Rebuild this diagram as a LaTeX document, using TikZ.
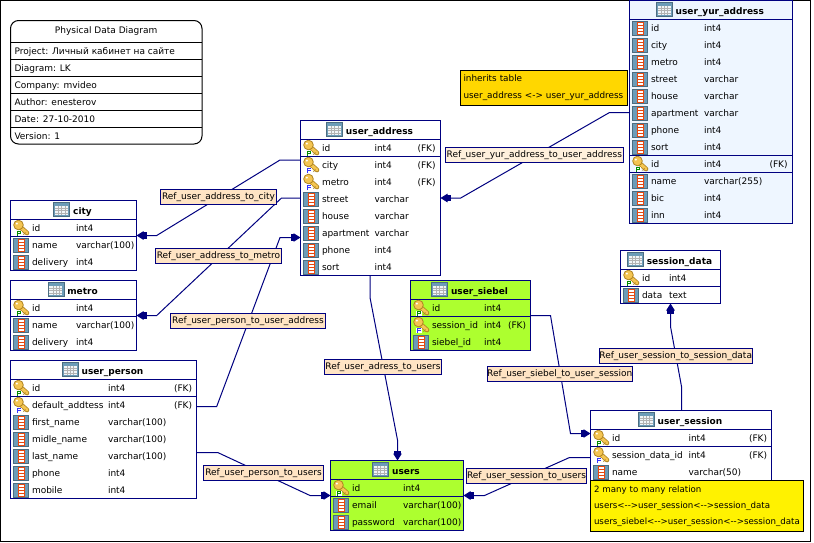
\documentclass[tikz,border=0pt]{standalone}
\usepackage{fontspec}
\setmainfont{DejaVu Sans}
\usetikzlibrary{arrows.meta}

\definecolor{refnavy}{HTML}{000080}
\definecolor{labelfill}{HTML}{FFE4C4}
\definecolor{labelpale}{HTML}{FFF0DC}
\definecolor{greenfill}{HTML}{ADFF2F}
\definecolor{bluefill}{HTML}{EEF6FF}
\definecolor{goldfill}{HTML}{FFD700}
\definecolor{iconblue}{HTML}{6C9CB8}
\definecolor{iconred}{HTML}{E8480F}
\definecolor{keygold}{HTML}{F4C552}
\definecolor{keyedge}{HTML}{B08420}

% columns of the next table: name, type, (FK)
\newcommand{\dbcols}[3]{\def\xname{#1}\def\xtype{#2}\def\xfk{#3}}
% name, left, right, top, bottom, fill, rows
\newcommand{\dbtable}[7]{
    \pgfmathsetmacro{\tabw}{#3-#2}
    \pgfmathsetmacro{\tabh}{#5-#4}
    \pgfmathsetmacro{\hdry}{#4+19}
    \node[dbbox, fill=#6, minimum width=\tabw pt, minimum height=\tabh pt] (#1) at (#2,#4) {};
    \node[dbtitle] (#1-title) at ({(#2+#3)/2+9},{#4+14}) {\detokenize{#1}};
    \pic at ([xshift=-19pt,yshift=12pt]#1-title.base west) {tabicon};
    \draw[dbline] (#2,\hdry) -- (#3,\hdry);
    \foreach \kind/\cname/\ctype [count=\i] in {#7} {
        \pgfmathsetmacro{\rowy}{\hdry+17*(\i-1)}
        \if\kind K \draw[dbline] (#2,\rowy) -- (#3,\rowy) (#2,\rowy+17) -- (#3,\rowy+17); \fi
        \if\kind P \draw[dbline] (#2,\rowy) -- (#3,\rowy) (#2,\rowy+17) -- (#3,\rowy+17); \fi
        \if\kind K \pic at (#2+2.5,\rowy+0.5) {keyP}; \node[coltext] (#1-fk\i) at (\xfk,\rowy+12) {(FK)}; \fi
        \if\kind P \pic at (#2+2.5,\rowy+0.5) {keyP}; \fi
        \if\kind F \pic at (#2+2.5,\rowy+0.5) {keyF}; \node[coltext] (#1-fk\i) at (\xfk,\rowy+12) {(FK)}; \fi
        \if\kind C \pic at (#2+3,\rowy+1.5) {colicon}; \fi
        \node[coltext] (#1-name\i) at (\xname,\rowy+12) {\cname};
        \node[coltext] (#1-type\i) at (\xtype,\rowy+12) {\ctype};
    }
}
\newcommand{\keyshape}{
    \draw[keyedge, line width=4.6pt, line cap=round] (5,5) -- (14,13);
    \draw[keygold, line width=3pt, line cap=round] (5,5) -- (14,13);
    \draw[keyedge, line width=1pt] (12.5,12.5) -- (10.5,14.5);
    \filldraw[fill=keygold, draw=keyedge, line width=0.8pt] (5.5,5) circle (4.8pt);
    \fill[white] (3.8,3.6) circle (1.1pt);
    \fill[white] (2.5,10.5) rectangle (8.5,16);
}

\begin{document}
\begin{tikzpicture}[x=1pt, y=-1pt, line width=1pt]
    \tikzset{
        dbfont/.style={font=\fontsize{9}{11}\selectfont},
        dbbox/.style={draw=refnavy, anchor=north west, inner sep=0pt, outer sep=0pt},
        dbline/.style={draw=refnavy},
        dbtitle/.style={anchor=base, inner sep=0pt, font=\fontsize{9}{11}\selectfont\bfseries},
        coltext/.style={dbfont, anchor=base west, inner sep=0pt},
        reflabel/.style={dbfont, draw=refnavy, fill=labelfill, inner sep=0pt, outer sep=0pt, minimum height=15.5pt},
        refarrow/.style={draw=refnavy, -{Rectangle[length=3.5pt,width=6.5pt,sep=-0.5pt]Triangle[length=7pt,width=8.5pt]}},
        notebox/.style={dbfont, draw=black, anchor=north west, inner xsep=3.5pt, inner ysep=0pt, outer sep=0pt, align=left},
        tabicon/.pic={
            \filldraw[fill=iconblue, draw=iconblue!70!black, line width=0.5pt] (0,0) rectangle (16,14);
            \fill[white!90!iconblue] (1.5,3) rectangle (14.5,12.5);
            \foreach \gx in {5,8,11.5} \draw[gray!60, line width=0.5pt] (\gx,3) -- (\gx,12.5);
            \foreach \gy in {5.5,8,10.5} \draw[gray!60, line width=0.5pt] (1.5,\gy) -- (14.5,\gy);
        },
        colicon/.pic={
            \filldraw[fill=iconblue, draw=iconblue!70!black, line width=0.5pt] (0,0) rectangle (15,14);
            \filldraw[fill=white, draw=iconred, line width=1pt] (4.5,1) rectangle (11,13.5);
            \foreach \gy in {4,7,10} \draw[iconred, line width=1pt] (4.5,\gy) -- (11,\gy);
        },
        keyP/.pic={
            \keyshape
            \draw[green!55!black, line width=1pt] (4.5,16) -- (4.5,11) -- (7.5,11) -- (7.5,13.5) -- (4.5,13.5);
        },
        keyF/.pic={
            \keyshape
            \draw[blue!80!white, line width=1pt] (4.5,16) -- (4.5,11) -- (8,11) (4.5,13.5) -- (7.5,13.5);
        }
    }
    \useasboundingbox (0,0) rectangle (814,542);
    \fill[white] (0,0) rectangle (814,542);
    \draw[black] (0.5,0.5) rectangle (810,541);

    % title block
    \node[draw=black, anchor=north west, rounded corners=8pt, inner sep=0pt, outer sep=0pt, minimum width=191.5pt, minimum height=123.5pt] (titleblock) at (10.5,20.5) {};
    \node[dbfont, anchor=base, inner sep=0pt] (titlehead) at (106.2,33.5) {Physical Data Diagram};
    \foreach \ty/\ttext [count=\i] in {42.5/Project: Личный кабинет на сайте, 59.5/Diagram: LK, 76.5/Company: mvideo, 93.5/Author: enesterov, 110.5/Date: 27-10-2010, 127.5/Version: 1} {
        \draw[black] (10.5,\ty) -- (202,\ty);
        \node[coltext] (titlerow\i) at (14,\ty+12) {\ttext};
    }

    % tables
    \dbcols{31.5}{75.5}{0}
    \dbtable{city}{10.5}{136.5}{200.5}{270}{white}{P/id/int4, C/name/varchar(100), C/delivery/int4}
    \dbtable{metro}{10.5}{136.5}{280.5}{350}{white}{P/id/int4, C/name/varchar(100), C/delivery/int4}
    \dbcols{31.5}{107.5}{173.5}
    \dbtable{user_person}{10.5}{196.5}{360.5}{498.5}{white}{K/id/int4, F/default\_addtess/int4, C/first\_name/varchar(100), C/midle\_name/varchar(100), C/last\_name/varchar(100), C/phone/int4, C/mobile/int4}
    \dbcols{321.5}{374}{417}
    \dbtable{user_address}{300.5}{440.5}{120.5}{275.5}{white}{K/id/int4, F/city/int4, F/metro/int4, C/street/varchar, C/house/varchar, C/apartment/varchar, C/phone/int4, C/sort/int4}
    \dbcols{351.5}{402.5}{0}
    \dbtable{users}{330.5}{463.5}{460.5}{530}{greenfill}{P/id/int4, C/email/varchar(100), C/password/varchar(100)}
    \dbcols{431.5}{483.5}{507.5}
    \dbtable{user_siebel}{410.5}{530.5}{280.5}{350.5}{greenfill}{P/id/int4, F/session\_id/int4, C/siebel\_id/int4}
    \dbcols{641.5}{668.5}{0}
    \dbtable{session_data}{620.5}{720.5}{250.5}{303.5}{white}{P/id/int4, C/data/text}
    \dbcols{650.5}{703.5}{769}
    \dbtable{user_yur_address}{629.5}{792}{0.5}{223.5}{bluefill}{C/id/int4, C/city/int4, C/metro/int4, C/street/varchar, C/house/varchar, C/apartment/varchar, C/phone/int4, C/sort/int4, K/id/int4, C/name/varchar(255), C/bic/int4, C/inn/int4}
    \dbcols{611.5}{688}{748.5}
    \dbtable{user_session}{590.5}{771.5}{410.5}{481}{white}{K/id/int4, F/session\_data\_id/int4, C/name/varchar(50)}

    % bends of the references
    \coordinate (cityA) at (280,160);
    \coordinate (cityB) at (156.7,235.5);
    \coordinate (metroA) at (281.5,198);
    \coordinate (metroB) at (156.7,315.5);
    \coordinate (addrA) at (216.7,406.5);
    \coordinate (addrB) at (280,237.5);
    \coordinate (yurA) at (609.5,112.5);
    \coordinate (yurB) at (460.7,198);
    \coordinate (adrA) at (370,297.5);
    \coordinate (adrB) at (397.5,440);
    \coordinate (perA) at (217.7,452.5);
    \coordinate (perB) at (310,495.5);
    \coordinate (sesA) at (569.5,457.5);
    \coordinate (sesB) at (484.5,495.5);
    \coordinate (sieA) at (550.5,315.5);
    \coordinate (sieB) at (570.5,433.5);
    \coordinate (datA) at (681.5,386.5);
    \coordinate (datB) at (670.5,326.5);

    \draw[refarrow] (user_address.west |- cityA) -- (cityA) -- (cityB) -- (city.east |- cityB);
    \draw[refarrow] (user_address.west |- metroA) -- (metroA) -- (metroB) -- (metro.east |- metroB);
    \draw[refarrow] (user_person.east |- addrA) -- (addrA) -- (addrB) -- (user_address.west |- addrB);
    \draw[refarrow] (user_yur_address.west |- yurA) -- (yurA) -- (yurB) -- (user_address.east |- yurB);
    \draw[refarrow] (user_address.south -| adrA) -- (adrA) -- (adrB) -- (users.north -| adrB);
    \draw[refarrow] (user_person.east |- perA) -- (perA) -- (perB) -- (users.west |- perB);
    \draw[refarrow] (user_session.west |- sesA) -- (sesA) -- (sesB) -- (users.east |- sesB);
    \draw[refarrow] (user_siebel.east |- sieA) -- (sieA) -- (sieB) -- (user_session.west |- sieB);
    \draw[refarrow] (user_session.north -| datA) -- (datA) -- (datB) -- (session_data.south -| datB);

    \node[reflabel, minimum width=116.5pt] (lab_city) at (218.5,197) {Ref\_user\_address\_to\_city};
    \node[reflabel, minimum width=126.5pt] (lab_metro) at (218.5,256) {Ref\_user\_address\_to\_metro};
    \node[reflabel, fill=labelpale, minimum width=178.5pt] (lab_yur) at (534.3,155) {Ref\_user\_yur\_address\_to\_user\_address};
    \node[reflabel, minimum width=155.5pt] (lab_addr) at (248,321) {Ref\_user\_person\_to\_user\_address};
    \node[reflabel, minimum width=117.5pt] (lab_adr) at (383,367) {Ref\_user\_adress\_to\_users};
    \node[reflabel, minimum width=120.5pt] (lab_per) at (263.5,473.2) {Ref\_user\_person\_to\_users};
    \node[reflabel, minimum width=145pt] (lab_sie) at (559.8,374) {Ref\_user\_siebel\_to\_user\_session};
    \node[reflabel, minimum width=152.5pt] (lab_dat) at (675.7,356) {Ref\_user\_session\_to\_session\_data};
    \node[reflabel, minimum width=120.5pt] (lab_ses) at (526.5,476) {Ref\_user\_session\_to\_users};

    % notes
    \node[notebox, fill=goldfill, font=\fontsize{8.85}{11}\selectfont, text width=160.5pt, minimum height=35.5pt] (note_inherit) at (460,70.3) {inherits table\\[6pt]\mbox{user\_address <-> user\_yur\_address}};
    \node[notebox, fill=yellow, font=\fontsize{8.66}{11}\selectfont, text width=206pt, minimum height=51pt] (note_many) at (590.5,480.5) {2 many to many relation\\[5pt]users<-{}->user\_session<-{}->session\_data\\[5pt]\mbox{users\_siebel<-{}->user\_session<-{}->session\_data}};
\end{tikzpicture}
\end{document}
